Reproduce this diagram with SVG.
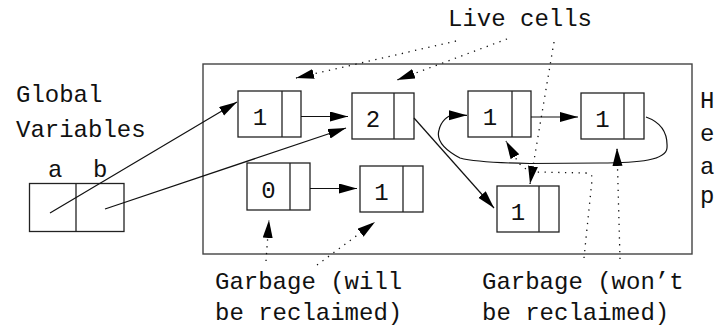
<svg xmlns="http://www.w3.org/2000/svg" width="722" height="326" viewBox="0 0 722 326">
<style>
  text { font-family: "Liberation Mono", "DejaVu Sans Mono", monospace; font-size: 24px; fill: #111; }
  .num { text-anchor: middle; }
  .box { fill: #fff; stroke: #222; stroke-width: 1.3; }
  .frame { fill: none; stroke: #444; stroke-width: 1.4; }
  .line { fill: none; stroke: #111; stroke-width: 1.2; }
  .dot { fill: none; stroke: #111; stroke-width: 1.3; stroke-dasharray: 1.3 5.5; }
</style>
<defs>
  <marker id="ah" markerUnits="userSpaceOnUse" markerWidth="20" markerHeight="12" refX="18" refY="5" orient="auto">
    <path d="M0,0 L18,5 L0,10 z" fill="#000" stroke="none"/>
  </marker>
</defs>

<rect id="heap" class="frame" x="203" y="64" width="489" height="190"/>

<g id="labels">
  <text x="448" y="26">Live cells</text>
  <text x="16" y="102">Global</text>
  <text x="16" y="137">Variables</text>
  <text x="48" y="177">a</text>
  <text x="93" y="177">b</text>
  <text x="215" y="289">Garbage (will</text>
  <text x="215" y="320">be reclaimed)</text>
  <text x="482" y="289">Garbage (won’t</text>
  <text x="482" y="320">be reclaimed)</text>
  <text x="700" y="108">H</text>
  <text x="700" y="141">e</text>
  <text x="700" y="174">a</text>
  <text x="700" y="203">p</text>
</g>

<g id="globals">
  <rect class="box" x="29.5" y="183.5" width="94.5" height="48"/>
  <line class="box" x1="76" y1="183.5" x2="76" y2="231.5"/>
</g>

<g id="cellA">
  <rect class="box" x="238" y="91" width="63" height="46"/>
  <line class="box" x1="282" y1="91" x2="282" y2="137"/>
  <text class="num" x="260" y="125">1</text>
</g>
<g id="cellB">
  <rect class="box" x="352" y="93" width="62" height="46"/>
  <line class="box" x1="394" y1="93" x2="394" y2="139"/>
  <text class="num" x="373" y="127">2</text>
</g>
<g id="cellC">
  <rect class="box" x="468" y="91" width="63" height="46"/>
  <line class="box" x1="512" y1="91" x2="512" y2="137"/>
  <text class="num" x="490" y="125">1</text>
</g>
<g id="cellD">
  <rect class="box" x="581" y="93" width="63" height="46"/>
  <line class="box" x1="624" y1="93" x2="624" y2="139"/>
  <text class="num" x="602.5" y="127">1</text>
</g>
<g id="cellE">
  <rect class="box" x="247" y="163" width="63" height="47"/>
  <line class="box" x1="290" y1="163" x2="290" y2="210"/>
  <text class="num" x="268.5" y="198">0</text>
</g>
<g id="cellF">
  <rect class="box" x="360" y="166" width="63" height="46"/>
  <line class="box" x1="403" y1="166" x2="403" y2="212"/>
  <text class="num" x="381.5" y="200">1</text>
</g>
<g id="cellG">
  <rect class="box" x="497" y="186" width="62" height="46"/>
  <line class="box" x1="539" y1="186" x2="539" y2="232"/>
  <text class="num" x="518" y="220">1</text>
</g>

<g id="connectors">
  <line class="line" x1="50" y1="213" x2="237" y2="102" marker-end="url(#ah)"/>
  <line class="line" x1="105" y1="209" x2="346" y2="128" marker-end="url(#ah)"/>
  <line class="line" x1="301" y1="116.5" x2="348" y2="116.5" marker-end="url(#ah)"/>
  <line class="line" x1="414" y1="118" x2="494" y2="208" marker-end="url(#ah)"/>
  <line class="line" x1="531" y1="117" x2="578" y2="117" marker-end="url(#ah)"/>
  <line class="line" x1="310" y1="188.5" x2="357" y2="188.5" marker-end="url(#ah)"/>
  <path class="line" d="M646 117 C660 122 668 132 667 148 C666 160 640 163 600 163 L530 163.5 C500 163 475 162 460 158 C445 150 436 140 439 130 C441 121 448 115.5 452 115.3 L467 115.3" marker-end="url(#ah)"/>

  <line class="dot" x1="456" y1="41" x2="296" y2="78" marker-end="url(#ah)"/>
  <line class="dot" x1="507" y1="39" x2="397" y2="80" marker-end="url(#ah)"/>
  <line class="dot" x1="554" y1="42" x2="530" y2="184" marker-end="url(#ah)"/>

  <line class="dot" x1="266" y1="261" x2="269" y2="220" marker-end="url(#ah)"/>
  <line class="dot" x1="317" y1="265" x2="375" y2="222" marker-end="url(#ah)"/>

  <path class="dot" d="M584 258 L592 180 Q593 173 586 173 L535 172 Q524 170 518 162 L506 141" marker-end="url(#ah)"/>
  <line class="dot" x1="620" y1="259" x2="617" y2="148" marker-end="url(#ah)"/>
</g>
</svg>
